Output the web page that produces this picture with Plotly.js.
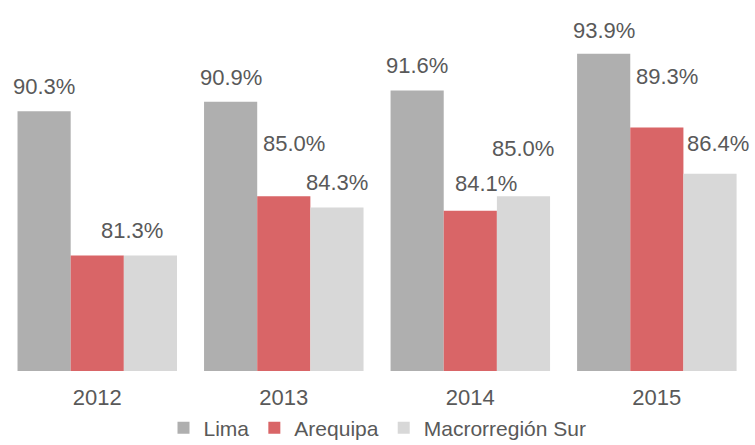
<!DOCTYPE html>
<html>
<head>
<meta charset="utf-8">
<script src="https://cdn.plot.ly/plotly-3.0.1.min.js"></script>
<style>html,body{margin:0;padding:0;background:#fff;}#chart{width:755px;height:445px;}</style>
</head>
<body>
<div id="chart"></div>
<script>
const years = ['2012', '2013', '2014', '2015'];
const seriesNames = ['Lima', 'Arequipa', 'Macrorregión Sur'];
const lima = [90.3, 90.9, 91.6, 93.9];
const arequipa = [81.3, 85.0, 84.1, 89.3];
const macroSur = [81.3, 84.3, 85.0, 86.4];
// which labels are shown (Arequipa 2012 label hidden in the original)
const showLabel = [[true, true, true, true], [false, true, true, true], [true, true, true, true]];

const colors = ['#afafaf', '#d96567', '#d8d8d8'];
// label placement tweaks (pixels) relative to the bar top
const labelDx = [[0, 0, 0, 0], [0, 10, 16, 10], [-18, 0, 0, 8]];
const labelDy = [[25, 24, 25, 23], [0, 53, 27, 51], [25, 25, 48, 30]];

const allSeries = [lima, arequipa, macroSur];
const bargap = 0.145;
const barW = (1 - bargap) / 3;

const traces = allSeries.map((vals, i) => ({
  type: 'bar',
  name: seriesNames[i],
  x: years,
  y: vals,
  marker: {color: colors[i]},
  hoverinfo: 'skip'
}));

const annotations = [];
allSeries.forEach((vals, i) => {
  vals.forEach((v, j) => {
    if (!showLabel[i][j]) return;
    annotations.push({
      x: j + (i - 1) * barW,
      y: v,
      xref: 'x', yref: 'y',
      text: v.toFixed(1) + '%',
      showarrow: false,
      xanchor: 'center', yanchor: 'middle',
      xshift: labelDx[i][j],
      yshift: labelDy[i][j],
      font: {family: 'Liberation Sans, Arial, sans-serif', size: 22, color: '#595959'}
    });
  });
});

const layout = {
  width: 755, height: 445,
  margin: {l: 4, r: 4, t: 20, b: 74, autoexpand: false},
  paper_bgcolor: '#fff', plot_bgcolor: '#fff',
  barmode: 'group', bargap: bargap, bargroupgap: 0,
  showlegend: true,
  legend: {
    orientation: 'h', x: 0.5, xanchor: 'center', y: -0.163, yanchor: 'middle',
    font: {family: 'Liberation Sans, Arial, sans-serif', size: 21, color: '#595959'},
    itemwidth: 30, traceorder: 'normal'
  },
  xaxis: {
    type: 'category', showgrid: false, zeroline: false, showline: false, ticks: '',
    ticklabelstandoff: 11, automargin: false,
    tickfont: {family: 'Liberation Sans, Arial, sans-serif', size: 22, color: '#595959'}
  },
  yaxis: {
    range: [74.1, 96], visible: false, showgrid: false, zeroline: false, automargin: false
  },
  annotations: annotations
};

Plotly.newPlot('chart', traces, layout, {displayModeBar: false, staticPlot: true});
</script>
</body>
</html>
